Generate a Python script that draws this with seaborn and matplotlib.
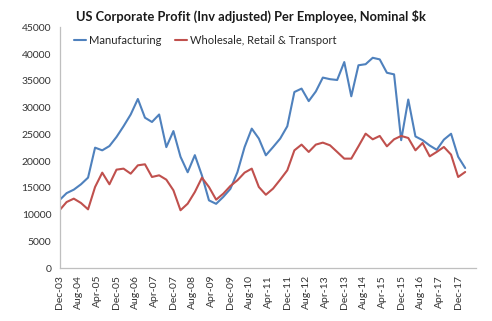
import matplotlib
matplotlib.use("Agg")
import matplotlib.pyplot as plt
import matplotlib.dates as mdates
import seaborn as sns
import pandas as pd
import numpy as np

dates = pd.date_range("2003-12-01", periods=58, freq="3MS")

manufacturing = [
    12700, 14000, 14650, 15650, 16900, 22500, 22000, 22800, 24500, 26500,
    28700, 31600, 28100, 27300, 28700, 22600, 25600, 20800, 17900, 21100,
    17300, 12650, 12000, 13300, 14800, 17900, 22600, 26060, 24200, 21070,
    22600, 24200, 26500, 32900, 33540, 31200, 33000, 35600, 35300, 35150,
    38500, 32100, 37900, 38100, 39300, 39000, 36500, 36200, 23900, 31500,
    24600, 23900, 22900, 22100, 24000, 25100, 20800, 18700,
]
wholesale = [
    10800, 12340, 12970, 12160, 10970, 15150, 17830, 15650, 18390, 18580,
    17640, 19200, 19390, 17020, 17330, 16520, 14530, 10800, 12030, 14210,
    16890, 15150, 12780, 13900, 15340, 16400, 17830, 18580, 15150, 13700,
    14840, 16520, 18270, 22000, 23070, 21700, 23070, 23440, 22940, 21700,
    20450, 20450, 22750, 25120, 24060, 24690, 22750, 24060, 24690, 24310,
    22000, 23380, 20880, 21700, 22630, 21200, 17020, 17950,
]
series_names = ["Manufacturing", "Wholesale, Retail & Transport"]
y_ticks = [0, 5000, 10000, 15000, 20000, 25000, 30000, 35000, 40000, 45000]
title = "US Corporate Profit (Inv adjusted) Per Employee, Nominal $k"

df = pd.DataFrame({
    "date": list(dates) * 2,
    "value": manufacturing + wholesale,
    "series": [series_names[0]] * len(dates) + [series_names[1]] * len(dates),
})

sns.set_style("white")
plt.rcParams["font.family"] = ["Lato", "DejaVu Sans"]

fig = plt.figure(figsize=(4.92, 3.21), dpi=100)
ax = fig.add_axes([0.121, 0.165, 0.846, 0.75])

palette = {series_names[0]: "#4F81BD", series_names[1]: "#C0504D"}
sns.lineplot(data=df, x="date", y="value", hue="series", palette=palette,
             linewidth=1.5, ax=ax, legend=True)

ax.set_ylim(0, 45000)
ax.set_yticks(y_ticks)
ax.set_yticklabels([str(v) for v in y_ticks])
ax.set_xlim(pd.Timestamp("2003-12-01"), pd.Timestamp("2018-07-15"))
xt = pd.date_range("2003-12-01", "2017-12-01", freq="8MS")
ax.set_xticks(xt)
ax.xaxis.set_major_formatter(mdates.DateFormatter("%b-%y"))
ax.set_xlabel("")
ax.set_ylabel("")

for s in ["top", "right"]:
    ax.spines[s].set_visible(False)
for s in ["left", "bottom"]:
    ax.spines[s].set_color("#BFBFBF")
    ax.spines[s].set_linewidth(0.9)

ax.tick_params(axis="both", colors="#BFBFBF", labelcolor="#333333",
               length=3, width=0.8, labelsize=7.5, direction="out")
ax.tick_params(axis="x", rotation=90, pad=2)
ax.tick_params(axis="y", pad=3)
ax.grid(False)

h, l = ax.get_legend_handles_labels()
ax.legend(h, l, loc="center left", bbox_to_anchor=(74 / 492, 1 - 40 / 321),
          bbox_transform=fig.transFigure, frameon=False, ncol=2,
          fontsize=8, handlelength=1.1, handletextpad=0.25, columnspacing=1.2,
          borderpad=0, borderaxespad=0)

fig.text(251 / 492, 1 - 16 / 321, title, ha="center", va="center",
         fontsize=9.3, fontweight="bold", color="#1a1a1a")

fig.savefig("out.png", dpi=100)
